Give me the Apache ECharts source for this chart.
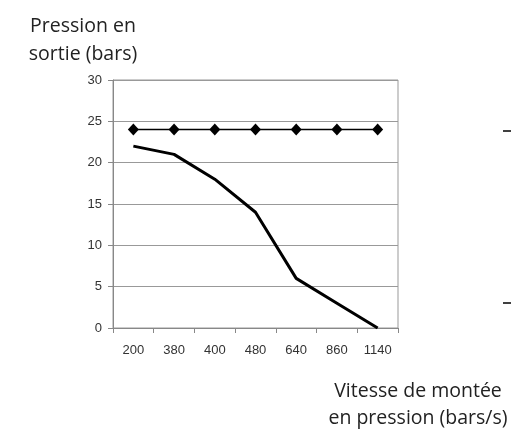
<!DOCTYPE html>
<html><head><meta charset="utf-8">
<script src="https://cdn.jsdelivr.net/npm/echarts@6/dist/echarts.min.js"></script>
<style>html,body{margin:0;padding:0;background:#fff}#c{width:512px;height:433px}</style>
</head><body><div id="c"></div>
<script>
const categories = ['200','380','400','480','640','860','1140'];
const seriesTop = [24,24,24,24,24,24,24];
const seriesBottom = [22,21,18,14,6,3,0];
const yTicks = [0,5,10,15,20,25,30];
const yName = 'Pression en\nsortie (bars)';
const xName = 'Vitesse de montée\nen pression (bars/s)';

const chart = echarts.init(document.getElementById('c'));
chart.setOption({
  animation:false,
  backgroundColor:'#fff',
  grid:{left:113,right:114,top:80,bottom:105,show:true,borderColor:'#999',borderWidth:1},
  title:[
    {text:yName,left:78,top:7,textAlign:'center',textStyle:{fontFamily:'Open Sans',fontWeight:'normal',fontSize:19.5,lineHeight:28,color:'#222',align:'center'}},
    {text:xName,left:413,top:373,textAlign:'center',textStyle:{fontFamily:'Open Sans',fontWeight:'normal',fontSize:19.5,lineHeight:27,color:'#222',align:'center'}}
  ],
  xAxis:{type:'category',data:categories,boundaryGap:true,
    axisLine:{lineStyle:{color:'#888',width:1}},
    axisTick:{show:true,length:5,lineStyle:{color:'#888'}},
    axisLabel:{fontFamily:'Liberation Sans',fontSize:13,color:'#333',margin:16}},
  yAxis:{type:'value',min:yTicks[0],max:yTicks[yTicks.length-1],interval:5,
    axisLine:{show:true,lineStyle:{color:'#888',width:1}},
    axisTick:{show:true,length:5,lineStyle:{color:'#888'}},
    splitLine:{lineStyle:{color:'#999',width:1}},
    axisLabel:{fontFamily:'Liberation Sans',fontSize:13,color:'#333',margin:11}},
  graphic:[
    {type:'line',shape:{x1:503,y1:131,x2:511,y2:131},style:{stroke:'#000',lineWidth:1.5}},
    {type:'line',shape:{x1:503,y1:303,x2:511,y2:303},style:{stroke:'#000',lineWidth:1.5}}
  ],
  series:[
    {type:'line',data:seriesTop,symbol:'diamond',symbolSize:[11,12],
     lineStyle:{color:'#000',width:1.5},itemStyle:{color:'#000'}},
    {type:'line',data:seriesBottom,symbol:'none',
     lineStyle:{color:'#000',width:3}}
  ]
});
</script></body></html>
